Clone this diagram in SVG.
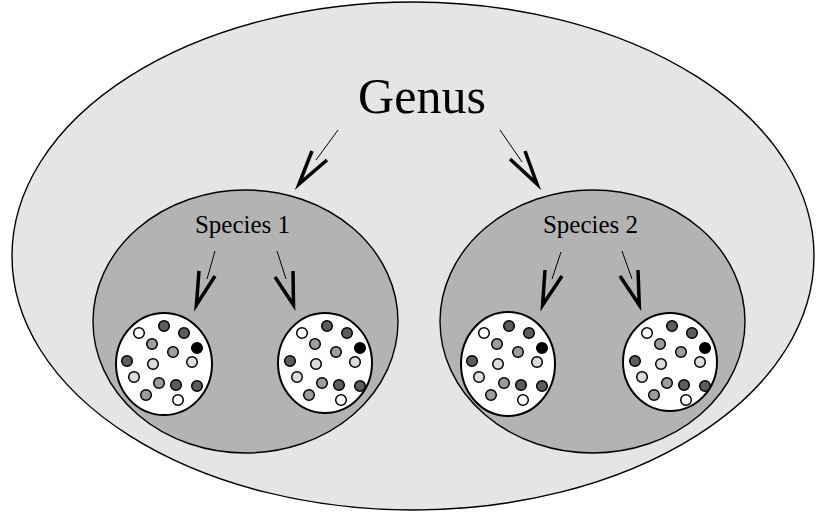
<svg xmlns="http://www.w3.org/2000/svg" xmlns:xlink="http://www.w3.org/1999/xlink" width="817" height="512" viewBox="0 0 817 512">
  <style>
    .outline { stroke: #000; stroke-width: 1.4; }
    .genus { fill: #e5e5e5; }
    .species { fill: #b3b3b3; }
    .sample { fill: #fff; stroke: #000; stroke-width: 2; }
    .label { font-family: "Liberation Serif", "Times New Roman", serif; fill: #000; text-anchor: middle; }
    .shaft { fill: none; stroke: #000; stroke-width: 1; }
    .head { fill: none; stroke: #000; stroke-width: 3.5; stroke-linejoin: miter; stroke-miterlimit: 12; stroke-linecap: butt; }
    .dot { stroke: #000; stroke-width: 1.5; }
    .w { fill: #ffffff; }
    .l { fill: #dcdcdc; }
    .m { fill: #9c9c9c; }
    .d { fill: #5c5c5c; }
    .k { fill: #000000; }
  </style>
  <defs>
    <!-- one sample of individuals, dots placed relative to the sample centre -->
    <g id="dots">
      <circle class="dot w" cx="-25" cy="-31" r="5.3"/>
      <circle class="dot d" cx="0" cy="-38" r="5.3"/>
      <circle class="dot d" cx="20" cy="-31" r="5.3"/>
      <circle class="dot m" cx="-12" cy="-20" r="5.3"/>
      <circle class="dot m" cx="9" cy="-12" r="5.3"/>
      <circle class="dot k" cx="33" cy="-16" r="5.3"/>
      <circle class="dot d" cx="-37" cy="-3" r="5.3"/>
      <circle class="dot l" cx="-11" cy="0" r="5.3"/>
      <circle class="dot l" cx="28" cy="-2" r="5.3"/>
      <circle class="dot l" cx="-30" cy="13" r="5.3"/>
      <circle class="dot m" cx="-5" cy="19" r="5.3"/>
      <circle class="dot d" cx="12" cy="21" r="5.3"/>
      <circle class="dot d" cx="33" cy="22" r="5.3"/>
      <circle class="dot m" cx="-18" cy="31" r="5.3"/>
      <circle class="dot w" cx="14" cy="36" r="5.3"/>
    </g>
  </defs>

  <g id="genus">
    <ellipse class="genus outline" cx="413" cy="256" rx="401" ry="254"/>
    <text class="label" x="422" y="113" font-size="50">Genus</text>
  </g>

  <g id="species-1">
    <ellipse class="species outline" cx="245.5" cy="321.5" rx="152.5" ry="131.5"/>
    <text class="label" x="242.5" y="233" font-size="25">Species 1</text>
  </g>

  <g id="species-2">
    <ellipse class="species outline" cx="592.5" cy="321.5" rx="152.5" ry="131.5"/>
    <text class="label" x="590.5" y="233" font-size="25">Species 2</text>
  </g>

  <g id="sample-1-1">
    <ellipse class="sample" cx="164" cy="364" rx="48" ry="51"/>
    <use xlink:href="#dots" href="#dots" transform="translate(164,364)"/>
  </g>
  <g id="sample-1-2">
    <ellipse class="sample" cx="325" cy="363" rx="47" ry="50"/>
    <use xlink:href="#dots" href="#dots" transform="translate(327,364)"/>
  </g>
  <g id="sample-2-1">
    <ellipse class="sample" cx="508" cy="364" rx="47" ry="52"/>
    <use xlink:href="#dots" href="#dots" transform="translate(509,364)"/>
  </g>
  <g id="sample-2-2">
    <ellipse class="sample" cx="670" cy="362" rx="47" ry="49"/>
    <use xlink:href="#dots" href="#dots" transform="translate(672,364)"/>
  </g>

  <g id="connectors">
    <!-- genus to species -->
    <line class="shaft" x1="338" y1="130" x2="316" y2="160"/>
    <polyline class="head" points="312,151 299,184 327,160"/>
    <line class="shaft" x1="500" y1="130" x2="522" y2="162"/>
    <polyline class="head" points="510,159 537,184 525,151"/>
    <!-- species 1 to its samples -->
    <line class="shaft" x1="215" y1="251" x2="207" y2="279"/>
    <polyline class="head" points="199,271 196.4,305 215,276"/>
    <line class="shaft" x1="277" y1="251" x2="286" y2="279"/>
    <polyline class="head" points="275,277 293.5,305 293,271"/>
    <!-- species 2 to its samples -->
    <line class="shaft" x1="561" y1="252" x2="552" y2="279"/>
    <polyline class="head" points="545,270 542.6,305 562,276"/>
    <line class="shaft" x1="622" y1="251" x2="632" y2="279"/>
    <polyline class="head" points="620,276 639.3,305 638,270"/>
  </g>
</svg>
